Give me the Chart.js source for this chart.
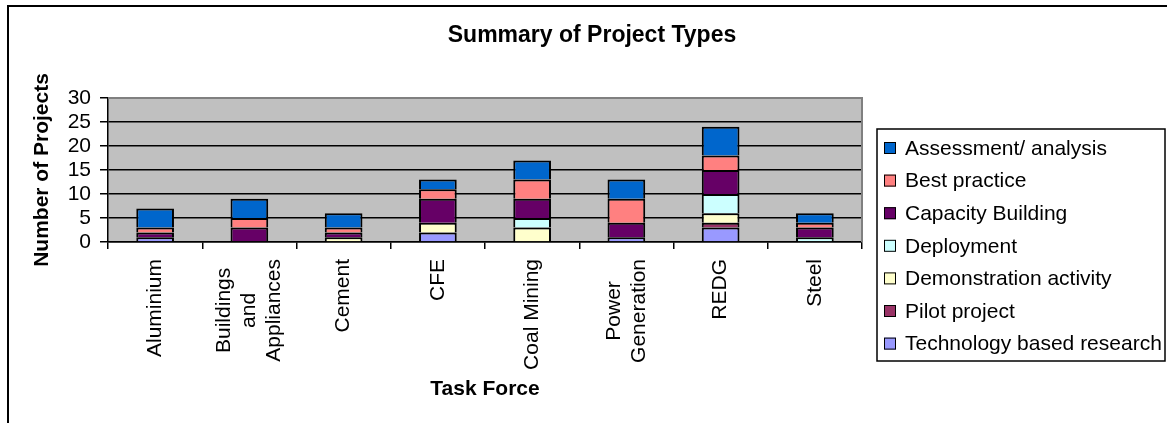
<!DOCTYPE html>
<html>
<head>
<meta charset="utf-8">
<title>Summary of Project Types</title>
<script src="https://cdn.jsdelivr.net/npm/chart.js@4/dist/chart.umd.min.js"></script>
<style>
    body { margin: 0; background: #fff; }
    canvas { display: block; }
</style>
</head>
<body>
<canvas id="projectChart" width="1167" height="423"></canvas>
<script>
// Chart data
const categories = ['Aluminium', ['Buildings', 'and', 'Appliances'], 'Cement', 'CFE', 'Coal Mining', ['Power', 'Generation'], 'REDG', 'Steel'];
const yTicks = [0, 5, 10, 15, 20, 25, 30];

// stacked bottom to top
const techResearch = [1, 0, 0, 2, 0, 1, 3, 0];
const pilotProject = [0, 0, 0, 0, 0, 0, 1, 0];
const demonstration = [0, 0, 1, 2, 3, 0, 2, 0];
const deployment = [0, 0, 0, 0, 2, 0, 4, 1];
const capacityBuilding = [1, 3, 1, 5, 4, 3, 5, 2];
const bestPractice = [1, 2, 1, 2, 4, 5, 3, 1];
const assessment = [4, 4, 3, 2, 4, 4, 6, 2];

const FONT = "'Liberation Sans', Arial, sans-serif";

// Background, frame, title, rotated category labels and legend box
const excelLook = {
    id: 'excelLook',
    beforeDraw(chart) {
        const { ctx, chartArea: a } = chart;
        ctx.save();
        ctx.fillStyle = '#fff';
        ctx.fillRect(0, 0, chart.width, chart.height);
        ctx.fillStyle = '#C0C0C0';
        ctx.fillRect(a.left, a.top, a.right - a.left, a.bottom - a.top);

        ctx.strokeStyle = '#000';
        ctx.lineWidth = 2;
        ctx.beginPath();
        ctx.moveTo(8, chart.height);
        ctx.lineTo(8, 6);
        ctx.lineTo(chart.width, 6);
        ctx.stroke();

        ctx.fillStyle = '#000';
        ctx.font = 'bold 23px ' + FONT;
        ctx.textAlign = 'center';
        ctx.textBaseline = 'middle';
        ctx.fillText('Summary of Project Types', 592, 36);
        ctx.restore();
    },
    beforeDatasetsDraw(chart) {
        const { ctx, chartArea: a } = chart;
        ctx.save();
        ctx.strokeStyle = '#808080';
        ctx.lineWidth = 2;
        ctx.beginPath();
        ctx.moveTo(a.left, a.top);
        ctx.lineTo(a.right, a.top);
        ctx.lineTo(a.right, a.bottom);
        ctx.stroke();
        ctx.restore();
    },
    afterDraw(chart) {
        const { ctx } = chart;
        const xScale = chart.scales.x;
        ctx.save();
        ctx.fillStyle = '#000';
        ctx.font = '21px ' + FONT;
        ctx.textAlign = 'center';
        ctx.textBaseline = 'middle';

        // category labels, rotated, lines centred on the longest one
        const lh = 25;
        chart.data.labels.forEach((label, i) => {
            const lines = Array.isArray(label) ? label : [label];
            const maxW = Math.max(...lines.map(l => ctx.measureText(l).width));
            const x = xScale.getPixelForValue(i);
            ctx.save();
            ctx.translate(x, xScale.top + 17);
            ctx.rotate(-Math.PI / 2);
            lines.forEach((line, j) => {
                ctx.fillText(line, -maxW / 2, (j - (lines.length - 1) / 2) * lh);
            });
            ctx.restore();
        });

        // legend
        ctx.strokeStyle = '#000';
        ctx.lineWidth = 1.5;
        ctx.strokeRect(877, 129, 288, 232);
        ctx.textAlign = 'left';
        const items = chart.data.datasets.slice().reverse();
        items.forEach((ds, i) => {
            const cy = 148 + i * 32.6;
            ctx.fillStyle = ds.backgroundColor;
            ctx.fillRect(884, cy - 6, 12, 12);
            ctx.lineWidth = 1;
            ctx.strokeStyle = '#000';
            ctx.strokeRect(884.5, cy - 5.5, 11, 11);
            ctx.fillStyle = '#000';
            ctx.fillText(ds.label, 905, cy + 1);
        });
        ctx.restore();
    }
};

function makeSet(label, data, color) {
    return {
        label: label,
        data: data,
        backgroundColor: color,
        borderColor: '#000',
        borderWidth: 2,
        categoryPercentage: 1,
        barPercentage: 0.4
    };
}

document.addEventListener('DOMContentLoaded', () => {
    const ctx = document.getElementById('projectChart').getContext('2d');

    new Chart(ctx, {
        type: 'bar',
        data: {
            labels: categories,
            datasets: [
                makeSet('Technology based research', techResearch, '#9999FF'),
                makeSet('Pilot project', pilotProject, '#993366'),
                makeSet('Demonstration activity', demonstration, '#FFFFCC'),
                makeSet('Deployment', deployment, '#CCFFFF'),
                makeSet('Capacity Building', capacityBuilding, '#660066'),
                makeSet('Best practice', bestPractice, '#FF8080'),
                makeSet('Assessment/ analysis', assessment, '#0066CC')
            ]
        },
        plugins: [excelLook],
        options: {
            responsive: false,
            animation: false,
            layout: { padding: { left: 26, top: 98, right: 305, bottom: 17 } },
            plugins: {
                legend: { display: false },
                title: { display: false },
                tooltip: { enabled: false }
            },
            scales: {
                x: {
                    stacked: true,
                    ticks: { display: false },
                    grid: {
                        drawOnChartArea: false,
                        color: '#000',
                        lineWidth: 1.5,
                        tickLength: 7,
                        offset: true
                    },
                    border: { color: '#000', width: 1.5 },
                    title: {
                        display: true,
                        text: 'Task Force',
                        color: '#000',
                        font: { family: FONT, size: 21, weight: 'bold' },
                        padding: { top: 4, bottom: 4 }
                    },
                    afterFit: scale => { scale.height = 164; }
                },
                y: {
                    stacked: true,
                    min: yTicks[0],
                    max: yTicks[yTicks.length - 1],
                    afterBuildTicks: scale => { scale.ticks = yTicks.map(v => ({ value: v })); },
                    ticks: {
                        color: '#000',
                        padding: 9,
                        autoSkip: false,
                        font: { family: FONT, size: 21 }
                    },
                    grid: { color: '#000', lineWidth: 1.5, tickLength: 8 },
                    border: { color: '#000', width: 1.5 },
                    title: {
                        display: true,
                        text: 'Number of Projects',
                        color: '#000',
                        font: { family: FONT, size: 21, weight: 'bold' },
                        padding: { top: 4, bottom: 4 }
                    },
                    afterFit: scale => { scale.width = 82; }
                }
            }
        }
    });
});
</script>
</body>
</html>
